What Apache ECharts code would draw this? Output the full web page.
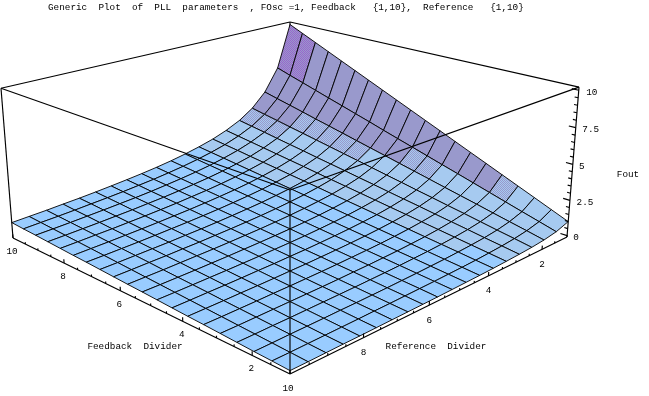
<!DOCTYPE html>
<html><head><meta charset="utf-8">
<script src="https://cdn.jsdelivr.net/npm/echarts@6/dist/echarts.min.js"></script>
<style>html,body{margin:0;padding:0;background:#fff}#c{width:649px;height:396px}</style>
</head><body><div id="c"></div>
<script>
const titleText = 'Generic  Plot  of  PLL  parameters  , FOsc =1, Feedback   {1,10},  Reference   {1,10}';
const feedbackValues = [1,1.47,1.95,2.42,2.89,3.37,3.84,4.32,4.79,5.26,5.74,6.21,6.68,7.16,7.63,8.11,8.58,9.05,9.53,10];
const referenceValues = [1,1.47,1.95,2.42,2.89,3.37,3.84,4.32,4.79,5.26,5.74,6.21,6.68,7.16,7.63,8.11,8.58,9.05,9.53,10];
// one row per reference value, one column per feedback value
const foutValues = [
[1,1.47,1.95,2.42,2.89,3.37,3.84,4.32,4.79,5.26,5.74,6.21,6.68,7.16,7.63,8.11,8.58,9.05,9.53,10],
[.68,1,1.32,1.64,1.96,2.29,2.61,2.93,3.25,3.57,3.89,4.21,4.54,4.86,5.18,5.5,5.82,6.14,6.46,6.79],
[.51,.76,1,1.24,1.49,1.73,1.97,2.22,2.46,2.70,2.95,3.19,3.43,3.68,3.92,4.16,4.41,4.65,4.89,5.14],
[.41,.61,.80,1,1.20,1.39,1.59,1.78,1.98,2.17,2.37,2.57,2.76,2.96,3.15,3.35,3.54,3.74,3.93,4.13],
[.35,.51,.67,.84,1,1.16,1.33,1.49,1.65,1.82,1.98,2.15,2.31,2.47,2.64,2.80,2.96,3.13,3.29,3.45],
[.30,.44,.58,.72,.86,1,1.14,1.28,1.42,1.56,1.70,1.84,1.98,2.13,2.27,2.41,2.55,2.69,2.83,2.97],
[.26,.38,.51,.63,.75,.88,1,1.12,1.25,1.37,1.49,1.62,1.74,1.86,1.99,2.11,2.23,2.36,2.48,2.60],
[.23,.34,.45,.56,.67,.78,.89,1,1.11,1.22,1.33,1.44,1.55,1.66,1.77,1.88,1.99,2.10,2.21,2.32],
[.21,.31,.41,.51,.60,.70,.80,.90,1,1.10,1.20,1.30,1.40,1.49,1.59,1.69,1.79,1.89,1.99,2.09],
[.19,.28,.37,.46,.55,.64,.73,.82,.91,1,1.09,1.18,1.27,1.36,1.45,1.54,1.63,1.72,1.81,1.90],
[.17,.26,.34,.42,.50,.59,.67,.75,.83,.92,1,1.08,1.17,1.25,1.33,1.41,1.50,1.58,1.66,1.74],
[.16,.24,.31,.39,.47,.54,.62,.69,.77,.85,.92,1,1.08,1.15,1.23,1.31,1.38,1.46,1.53,1.61],
[.15,.22,.29,.36,.43,.50,.57,.65,.72,.79,.86,.93,1,1.07,1.14,1.21,1.28,1.35,1.43,1.50],
[.14,.21,.27,.34,.40,.47,.54,.60,.67,.74,.80,.87,.93,1,1.07,1.13,1.20,1.26,1.33,1.40],
[.13,.19,.26,.32,.38,.44,.50,.57,.63,.69,.75,.81,.88,.94,1,1.06,1.12,1.19,1.25,1.31],
[.12,.18,.24,.30,.36,.42,.47,.53,.59,.65,.71,.77,.82,.88,.94,1,1.06,1.12,1.18,1.23],
[.12,.17,.23,.28,.34,.39,.45,.50,.56,.61,.67,.72,.78,.83,.89,.94,1,1.06,1.11,1.17],
[.11,.16,.22,.27,.32,.37,.42,.48,.53,.58,.63,.69,.74,.79,.84,.90,.95,1,1.05,1.10],
[.10,.15,.20,.25,.30,.35,.40,.45,.50,.55,.60,.65,.70,.75,.80,.85,.90,.95,1,1.05],
[.10,.15,.19,.24,.29,.34,.38,.43,.48,.53,.57,.62,.67,.72,.76,.81,.86,.91,.95,1]
];
const feedbackTicks = [2,4,6,8,10];
const referenceTicks = [2,4,6,8,10];
const foutTickLabels = ['0','2.5','5','7.5','10'];
const foutTicks = [0,2.5,5,7.5,10];
const minorHorizontalTicks = [1,1.5,2,2.5,3,3.5,4,4.5,5,5.5,6,6.5,7,7.5,8,8.5,9,9.5,10];
const minorFoutTicks = [0,.5,1,1.5,2,2.5,3,3.5,4,4.5,5,5.5,6,6.5,7,7.5,8,8.5,9,9.5,10];

// perspective box
const T = 1.264, R_ = -0.0525, P = T - 1;
const A = 277*T, C = 238*T-374, D = 237*T-374, E = 190*(1+R_)-374;
const ZMIN = -0.1, ZMAX = 10.2;
function proj(u,v,w){
  const d = 1 + P*(u+v) + R_*w;
  return [290 + A*(v-u)/d, (374 + C*u + D*v + E*w)/d];
}
const U = f => (f-1)/9, V = r => (10-r)/9, W = z => (z-ZMIN)/(ZMAX-ZMIN);
function pt(f,r,z){ return proj(U(f),V(r),W(z)); }

function checker(a,b){
  const c=document.createElement('canvas'); c.width=2;c.height=2;
  const x=c.getContext('2d');
  x.fillStyle=a;x.fillRect(0,0,2,2);
  x.fillStyle=b;x.fillRect(0,0,1,1);x.fillRect(1,1,1,1);
  return {image:c,repeat:'repeat'};
}
const FLAT='#99CCFF', LIGHT='#A6CAF0', MID='#9999CC';
const BAND=checker('#A6CAF0','#9999CC'), TOP=checker('#9999CC','#9966CC');

function cellFill(i,j){
  const dr = referenceValues[j+1]-referenceValues[j];
  const s = ((foutValues[j][i]-foutValues[j+1][i]) + (foutValues[j][i+1]-foutValues[j+1][i+1]))/2/dr;
  const rMid=(referenceValues[j]+referenceValues[j+1])/2, fMid=(feedbackValues[i]+feedbackValues[i+1])/2;
  if (s>=6.1) return TOP;
  if (s>=1.88) return MID;
  if (s>=Math.max(1.62-0.135*j,1.2)) return BAND;
  if (rMid<3.4+0.1*fMid) return LIGHT;
  return FLAT;
}

const cells=[];
for(let j=0;j<referenceValues.length-1;j++)for(let i=0;i<feedbackValues.length-1;i++)cells.push([i,j]);
cells.sort((a,b)=>(b[0]-b[1])-(a[0]-a[1]));

const LW=1.15, MESH=0.9;
function lineShape(api,a,b){
  const p=api.coord(a),q=api.coord(b);
  return {type:'line',shape:{x1:p[0],y1:p[1],x2:q[0],y2:q[1]},style:{stroke:'#000',lineWidth:LW}};
}
const base={type:'custom',coordinateSystem:'cartesian2d',clip:false,silent:true,animation:false};

const backEdges=[
 [proj(1,0,1),proj(1,1,1)],[proj(1,1,1),proj(0,1,1)],[proj(1,1,0),proj(1,1,1)]
];
const frontEdges=[
 [proj(1,0,0),proj(1,0,1)],[proj(0,1,0),proj(0,1,1)],
 [proj(1,0,1),proj(0,0,1)],[proj(0,1,1),proj(0,0,1)],[proj(0,0,0),proj(0,0,1)],
 [proj(1,0,0),proj(0,0,0)],[proj(0,1,0),proj(0,0,0)]
];
const tickSegs=[];
const isMajor=(list,x)=>list.includes(x);
minorHorizontalTicks.forEach(f=>{
  const L=(isMajor(feedbackTicks,f)?0.025:0.013);
  tickSegs.push([proj(U(f),0,0),proj(U(f),0,L)]);
});
minorHorizontalTicks.forEach(r=>{
  const L=(isMajor(referenceTicks,r)?0.025:0.013);
  tickSegs.push([proj(0,V(r),0),proj(0,V(r),L)]);
});
minorFoutTicks.forEach(z=>{
  const L=(isMajor(foutTicks,z)?0.02:0.01);
  tickSegs.push([proj(0,1,W(z)),proj(L,1,W(z))]);
});

const font='"Liberation Mono"';
function txt(text,pos,align){
  return {value:pos,text,align:align||'center'};
}
const labels=[];
feedbackTicks.forEach(f=>{const p=pt(f,10,ZMIN);labels.push(txt(String(f),[p[0]-1,p[1]+13.5]));});
referenceTicks.forEach(r=>{const p=pt(1,r,ZMIN);labels.push(txt(String(r),[p[0]+(r===10?-2:0),p[1]+15]));});
const zOff={1:9,2:13,3:15};
foutTicks.forEach((z,k)=>{const p=pt(1,1,z);const s=foutTickLabels[k];labels.push(txt(s,[p[0]+zOff[s.length],p[1]+2]));});
labels.push(txt('Feedback  Divider',[135,347]));
labels.push(txt('Reference  Divider',[436,347]));
labels.push(txt('Fout',[628,175]));

const chart=echarts.init(document.getElementById('c'),null,{renderer:'canvas'});
chart.setOption({
  animation:false,
  backgroundColor:'#fff',
  title:{text:titleText,left:48,top:3,padding:0,textStyle:{fontFamily:font,fontSize:9.33,fontWeight:'normal',color:'#000'}},
  grid:{left:0,right:0,top:0,bottom:0,containLabel:false},
  xAxis:{type:'value',min:0,max:649,show:false},
  yAxis:{type:'value',min:0,max:396,inverse:true,show:false},
  tooltip:{show:false},
  series:[
   Object.assign({},base,{z:1,data:backEdges.map((e,k)=>[k]),
     encode:{x:0,y:0},
     renderItem:(p,api)=>lineShape(api,backEdges[api.value(0)][0],backEdges[api.value(0)][1])}),
   Object.assign({},base,{z:2,data:cells,
     encode:{x:0,y:1},
     renderItem:(p,api)=>{
       const i=api.value(0),j=api.value(1);
       const corners=[[i,j],[i+1,j],[i+1,j+1],[i,j+1]].map(([a,b])=>
         api.coord(pt(feedbackValues[a],referenceValues[b],foutValues[b][a])));
       return {type:'polygon',shape:{points:corners},style:{fill:cellFill(i,j),stroke:'#000',lineWidth:MESH}};
     }}),
   Object.assign({},base,{z:3,data:frontEdges.map((e,k)=>[k]),
     encode:{x:0,y:0},
     renderItem:(p,api)=>lineShape(api,frontEdges[api.value(0)][0],frontEdges[api.value(0)][1])}),
   Object.assign({},base,{z:3,data:tickSegs.map((e,k)=>[k]),
     encode:{x:0,y:0},
     renderItem:(p,api)=>lineShape(api,tickSegs[api.value(0)][0],tickSegs[api.value(0)][1])}),
   Object.assign({},base,{z:4,data:labels.map((e,k)=>[k]),
     encode:{x:0,y:0},
     renderItem:(p,api)=>{
       const l=labels[api.value(0)];const c=api.coord(l.value);
       return {type:'text',x:c[0],y:c[1],style:{text:l.text,fill:'#000',font:'9.33px '+font,textAlign:l.align,textVerticalAlign:'middle'}};
     }})
  ]
});
</script></body></html>
